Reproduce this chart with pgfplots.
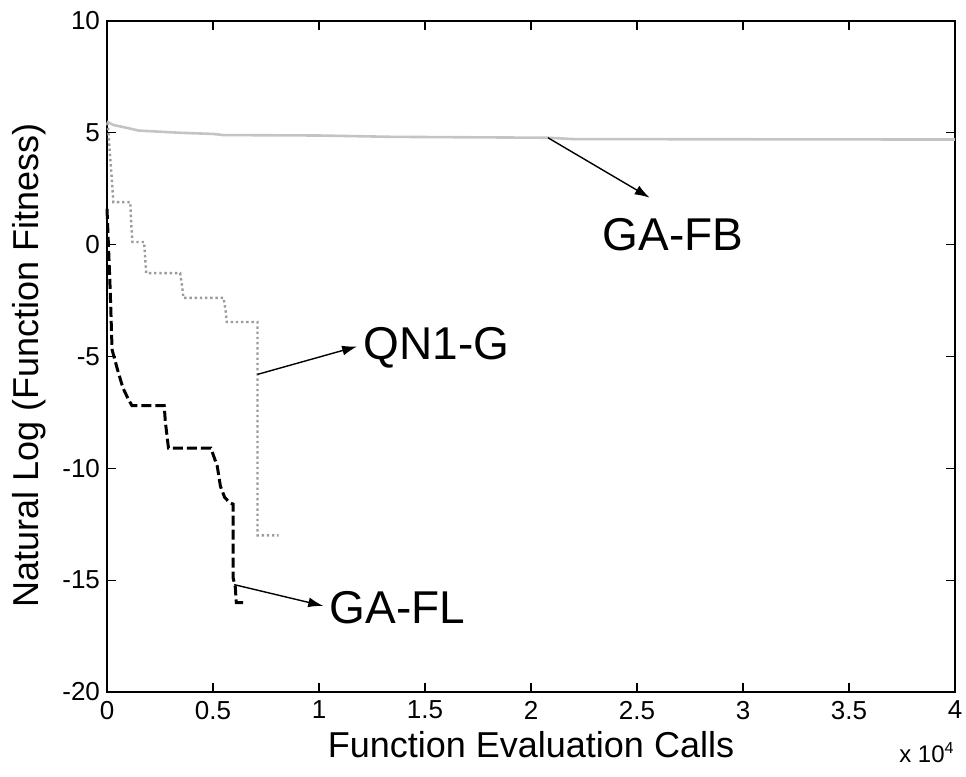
\documentclass[border=0pt]{standalone}
\usepackage{fontspec}
\setmainfont{Liberation Sans}
\usepackage{pgfplots}
\pgfplotsset{compat=1.18}
\usetikzlibrary{arrows.meta}

\definecolor{fbgray}{RGB}{196,196,196}
\definecolor{qngray}{RGB}{155,155,155}

\begin{document}
\begin{tikzpicture}[x=1pt,y=1pt]
% page = 966x777 px at 0.5pt per px, axis box lower left at (0,0)
\useasboundingbox (-53.5,-42.5) rectangle (429.5,346);
\begin{axis}[
    scale only axis,
    width=424pt, height=335.5pt,
    xmin=0, xmax=40000, ymin=-20, ymax=10,
    xtick={0,5000,...,40000},
    xticklabels={0,0.5,1,1.5,2,2.5,3,3.5,4},
    ytick={-20,-15,...,10},
    yticklabels={-20,-15,-10,-5,0,5,10},
    scaled x ticks=false,
    tick align=inside,
    major tick length=4.5pt,
    tick style={black, line width=0.6pt},
    axis line style={line width=0.6pt},
    ticklabel style={font=\fontsize{13}{15}\selectfont},
    xticklabel style={yshift=-1pt},
    xlabel={Function Evaluation Calls},
    ylabel={Natural Log (Function Fitness)},
    label style={font=\fontsize{18}{22}\selectfont},
    xlabel style={at={(axis description cs:0.5,-0.079)}, anchor=center},
    ylabel style={at={(axis description cs:-0.092,0.487)}, anchor=center},
    clip=false,
  ]
% GA-FB
\addplot[fbgray, line width=1.3pt] coordinates {
  (0,5.5) (300,5.35) (800,5.25) (1500,5.1) (2500,5.05) (3500,5.0)
  (5000,4.95) (5500,4.9) (10000,4.88) (13500,4.82) (20800,4.78)
  (22000,4.72) (40000,4.7)
};
% QN1-G
\addplot[qngray, line width=1.2pt, dash pattern=on 1.2pt off 1.4pt] coordinates {
  (0,5.45) (50,5.2) (100,4.6) (150,3.9) (200,3.3) (250,2.6) (300,1.9)
  (1100,1.9) (1150,0.8) (1200,0.12) (1750,0.12) (1800,-0.6) (1850,-1.27)
  (3450,-1.27) (3550,-1.9) (3600,-2.38) (5500,-2.38) (5600,-3.0)
  (5650,-3.46) (7100,-3.46) (7100,-13) (8100,-13)
};
% GA-FL
\addplot[black, line width=1.5pt, dash pattern=on 5pt off 2pt] coordinates {
  (0,1.6) (150,-2) (240,-4.7) (500,-5.6) (750,-6.4) (1000,-6.9)
  (1180,-7.2) (2700,-7.2) (2750,-7.9) (2900,-9.1) (4900,-9.1)
  (5200,-9.9) (5350,-10.8) (5550,-11.3) (5800,-11.55) (5950,-11.6)
  (5950,-14.9) (6050,-15.3) (6100,-16) (6600,-16)
};
\draw[-{Latex[length=7.5pt,width=5pt]}, line width=0.7pt]
  (axis cs:20800,4.78) -- (axis cs:25600,2.1);
\draw[-{Latex[length=7.5pt,width=5pt]}, line width=0.7pt]
  (axis cs:7100,-5.8) -- (axis cs:11800,-4.55);
\draw[-{Latex[length=7.5pt,width=5pt]}, line width=0.7pt]
  (axis cs:6000,-15.2) -- (axis cs:10200,-16.15);
\node[font=\fontsize{23}{27}\selectfont] at (axis cs:26700,0.45) {GA-FB};
\node[anchor=west, font=\fontsize{23}{27}\selectfont, inner sep=0pt] at (axis cs:12100,-4.6) {QN1-G};
\node[anchor=west, font=\fontsize{23}{27}\selectfont, inner sep=0pt] at (axis cs:10500,-16.25) {GA-FL};
\node[anchor=north east, inner sep=0pt, font=\fontsize{12}{14}\selectfont]
  at (rel axis cs:1,0) [yshift=-25pt] {x 10\textsuperscript{4}};
\end{axis}
\end{tikzpicture}
\end{document}
